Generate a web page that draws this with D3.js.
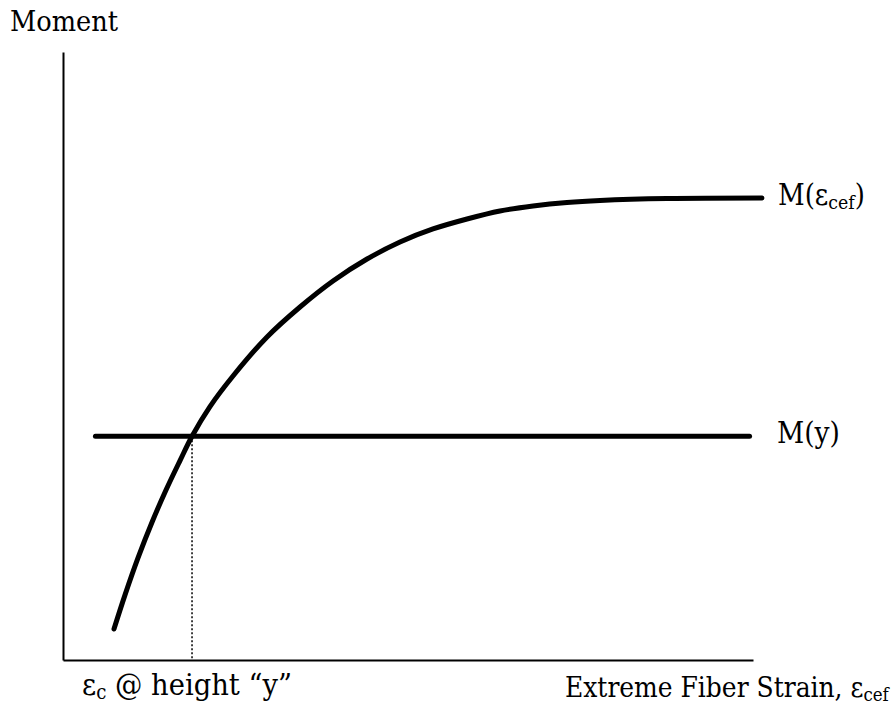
<!DOCTYPE html>
<html>
<head>
<meta charset="utf-8">
<script src="https://cdn.jsdelivr.net/npm/d3@7"></script>
<style>
  html, body { margin: 0; padding: 0; background: #fff; }
  svg { display: block; }
</style>
</head>
<body>
<svg id="chart" width="895" height="713"></svg>
<script>
// Moment vs. extreme fiber strain (schematic units, 0–100 on both axes)
const strain = [7.39, 8.99, 10.87, 12.90, 14.93, 16.96, 18.70, 21.30, 24.64, 29.57, 34.35, 39.13,
                44.06, 48.84, 53.62, 58.55, 63.33, 68.12, 73.04, 77.83, 87.54, 101.3];
const momentCurve = [5.10, 10.71, 16.79, 22.66, 27.96, 32.80, 36.80, 41.68, 46.71, 53.13, 58.06, 62.34,
                     65.95, 68.75, 70.89, 72.53, 73.85, 74.67, 75.25, 75.58, 75.90, 75.99];

// Constant moment M(y) and the strain where the curve reaches it
const momentY = 36.8;
const momentYStrain = [4.7, 99.5];
const strainAtY = 18.7;

const xDomain = [0, 100];
const yDomain = [0, 100];

const FONT = "'DejaVu Serif Condensed', 'DejaVu Serif', serif";

const svg = d3.select("#chart");

const x = d3.scaleLinear().domain(xDomain).range([63, 753]);
const y = d3.scaleLinear().domain(yDomain).range([660, 52]);

// Bare axes: only the domain lines, no ticks
const xAxis = d3.axisBottom(x).tickValues([]).tickSizeOuter(0);
const yAxis = d3.axisLeft(y).tickValues([]).tickSizeOuter(0);

svg.append("g")
  .attr("transform", `translate(0,${y(0)})`)
  .call(xAxis)
  .call(g => g.select(".domain").attr("stroke", "#000").attr("stroke-width", 2));

svg.append("g")
  .attr("transform", `translate(${x(0)},0)`)
  .call(yAxis)
  .call(g => g.select(".domain").attr("stroke", "#000").attr("stroke-width", 2));

// Dotted drop line from the intersection to the strain axis
svg.append("line")
  .attr("x1", x(strainAtY)).attr("x2", x(strainAtY))
  .attr("y1", y(momentY)).attr("y2", y(0))
  .attr("stroke", "#000")
  .attr("stroke-width", 1.5)
  .attr("stroke-dasharray", "2,2");

// Horizontal M(y) line
svg.append("line")
  .attr("x1", x(momentYStrain[0])).attr("x2", x(momentYStrain[1]))
  .attr("y1", y(momentY)).attr("y2", y(momentY))
  .attr("stroke", "#000")
  .attr("stroke-width", 5)
  .attr("stroke-linecap", "round");

// Moment–strain curve M(ε_cef)
const curvePts = strain.map((s, i) => [s, momentCurve[i]]);
const line = d3.line()
  .x(d => x(d[0]))
  .y(d => y(d[1]))
  .curve(d3.curveCatmullRom.alpha(0.5));

svg.append("path")
  .datum(curvePts)
  .attr("d", line)
  .attr("fill", "none")
  .attr("stroke", "#000")
  .attr("stroke-width", 5)
  .attr("stroke-linecap", "round");

// Labels: built at a base size, then each scaled to fill its slot width.
const baseFs = 30, baseSub = 20;
const labels = [];

function label(px, py, width) {
  const t = svg.append("text")
    .attr("x", px).attr("y", py)
    .attr("font-family", FONT)
    .attr("font-stretch", "condensed")
    .attr("font-size", baseFs)
    .attr("fill", "#000");
  labels.push({ t, width });
  return t;
}
function sub(t, s) {
  t.append("tspan").attr("class", "sub").attr("font-size", baseSub).attr("dy", 4).text(s);
}
function back(t, s) {
  t.append("tspan").attr("dy", -4).text(s);
}

label(10, 31, 108).text("Moment");

const lblCurve = label(778, 205, 87);
lblCurve.append("tspan").text("M(ε");
sub(lblCurve, "cef");
back(lblCurve, ")");

label(777, 443, 63).text("M(y)");

const lblStrainY = label(82, 695, 210);
lblStrainY.append("tspan").text("ε");
sub(lblStrainY, "c");
back(lblStrainY, " @ height “y”");

const lblX = label(565, 697, 324);
lblX.append("tspan").text("Extreme Fiber Strain, ε");
sub(lblX, "cef");

labels.forEach(({ t, width }) => {
  const k = Math.min(1.2, width / t.node().getComputedTextLength());
  t.attr("font-size", baseFs * k);
  t.selectAll("tspan.sub").attr("font-size", baseSub * k);
});
</script>
</body>
</html>
